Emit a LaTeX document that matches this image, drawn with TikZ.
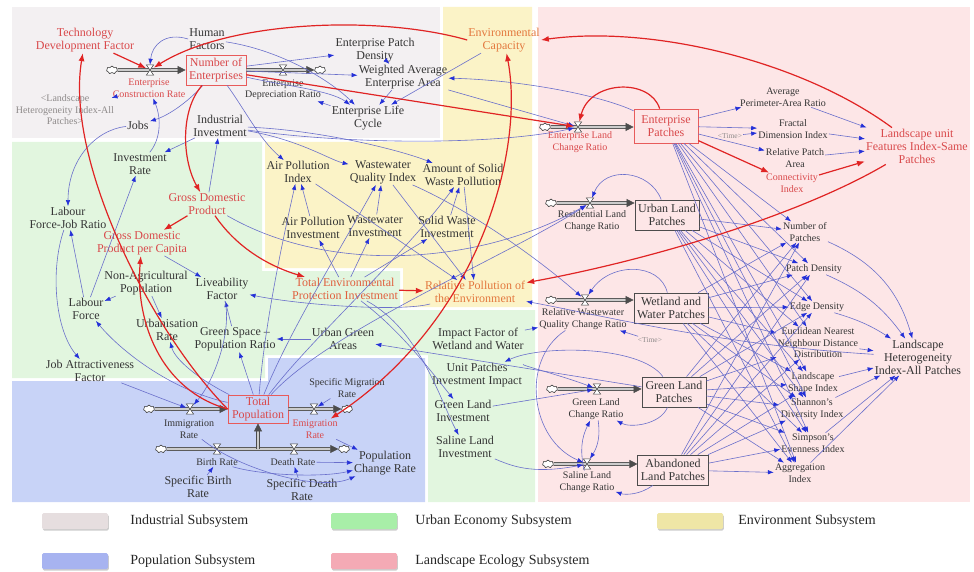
\documentclass[tikz,border=0pt]{standalone}
\usepackage{fontspec}
\setmainfont{Liberation Serif}
\usetikzlibrary{arrows.meta,shapes.symbols,shadows,positioning}

\definecolor{indbg}{HTML}{F3F0F2}
\definecolor{envbg}{HTML}{FBF3C7}
\definecolor{urbbg}{HTML}{E2F6DF}
\definecolor{popbg}{HTML}{C8D3F7}
\definecolor{lanbg}{HTML}{FDE6E7}
\definecolor{indsw}{HTML}{E6DEDF}
\definecolor{urbsw}{HTML}{A8EEA8}
\definecolor{envsw}{HTML}{EFE6A6}
\definecolor{popsw}{HTML}{A7B3F0}
\definecolor{lansw}{HTML}{F4AAB5}
\definecolor{linkc}{HTML}{6A6FCB}
\definecolor{headc}{HTML}{2430D8}
\definecolor{redc}{HTML}{E02424}
\definecolor{redtxt}{HTML}{D9494B}
\definecolor{orgtxt}{HTML}{E3783E}
\definecolor{tepic}{HTML}{E0603E}
\definecolor{txt}{HTML}{353535}
\definecolor{greytxt}{HTML}{8E8A8A}

\begin{document}
\begin{tikzpicture}[x=1pt,y=-1pt,
  lbl/.style={align=center,inner sep=1pt,text=txt,font=\fontsize{12}{13}\selectfont},
  slbl/.style={lbl,font=\fontsize{10}{11.5}\selectfont},
  rlbl/.style={lbl,text=redtxt},
  srlbl/.style={slbl,text=redtxt},
  olbl/.style={lbl,text=orgtxt},
  tlbl/.style={inner sep=1pt,text=greytxt,font=\fontsize{7.5}{8}\selectfont},
  stock/.style={lbl,draw=black!70,line width=0.8pt,inner xsep=3pt,inner ysep=2pt,minimum height=30pt,minimum width=64pt},
  rstock/.style={stock,draw=redc!75,text=redtxt},
  cloudn/.style={cloud,cloud puffs=7,aspect=1.3,draw=black!75,fill=white,minimum width=11pt,minimum height=8pt,inner sep=0pt,line width=0.6pt},
  valve/.style={minimum width=7pt,minimum height=10pt,inner sep=0pt},
  pipeline/.style={draw=black!70,line width=0.6pt,double=gray!40,double distance=2.4pt},
  pipe/.style={pipeline,-{Triangle[length=8pt,width=8pt]}},
  link/.style={draw=linkc,line width=0.6pt,-{Latex[length=6pt,width=4.5pt,color=headc]}},
  rlink/.style={draw=redc,line width=1.2pt,-{Latex[length=8pt,width=6pt]}},
  swatch/.style={minimum width=66pt,minimum height=16pt,inner sep=0pt,rounded corners=1.5pt,drop shadow={shadow xshift=0.8pt,shadow yshift=-1.6pt,fill=black!40}},
  legtxt/.style={inner sep=0pt,text=black!85,font=\fontsize{14}{16}\selectfont}]

\useasboundingbox (0,0) rectangle (974,572);

% subsystems
\fill[indbg] (12,7) rectangle (440,138);
\fill[envbg] (443,7) -- (532,7) -- (532,307) -- (403,307) -- (403,268) -- (265,268) -- (265,142) -- (443,142) -- cycle;
\fill[urbbg] (12,142) -- (262,142) -- (262,271) -- (400,271) -- (400,310) -- (535,310) -- (535,502) -- (428,502) -- (428,355) -- (265,355) -- (265,378) -- (12,378) -- cycle;
\fill[popbg] (12,381) -- (268,381) -- (268,358) -- (425,358) -- (425,502) -- (12,502) -- cycle;
\fill[lanbg] (538,7) rectangle (970,502);

% industrial
\node[rlbl] (tdf) at (85,40) {Technology\\Development Factor};
\node[lbl] (hf) at (207,39) {Human\\Factors};
\node[rstock,minimum width=60pt] (noe) at (216,70) {Number of\\Enterprises};
\node[cloudn] (cECR) at (112,70) {};
\node[valve] (vECR) at (150,70) {};
\node[srlbl] (lECR) at (149,88) {Enterprise\\Construction Rate};
\node[cloudn] (cEDR) at (320,70) {};
\node[valve] (vEDR) at (283,70) {};
\node[slbl] (lEDR) at (283,90) {Enterprise\\Depreciation Ratio};
\node[slbl,text=greytxt] (lhi) at (65,110) {<Landscape\\Heterogeneity Index-All\\Patches>};
\node[lbl] (jobs) at (138,125) {Jobs};
\node[lbl] (iinv) at (220,126) {Industrial\\Investment};
\node[lbl] (epd) at (375,50) {Enterprise Patch\\Density};
\node[lbl] (wae) at (403,77) {Weighted Average\\Enterprise Area};
\node[lbl] (elc) at (368,118) {Enterprise Life\\Cycle};

% environment
\node[olbl] (ec) at (504,40) {Environmental\\Capacity};
\node[lbl] (api) at (298,172) {Air Pollution\\Index};
\node[lbl] (wqi) at (383,172) {Wastewater\\Quality Index};
\node[lbl] (aswp) at (463,175) {Amount of Solid\\Waste Pollution};
\node[lbl] (apinv) at (313,228) {Air Pollution\\Investment};
\node[lbl] (wwinv) at (375,226) {Wastewater\\Investment};
\node[lbl] (swinv) at (447,227) {Solid Waste\\Investment};
\node[olbl] (rpe) at (475,292) {Relative Pollution of\\the Environment};
\node[lbl,text=tepic] (tepi) at (345,289) {Total Environmental\\Protection Investment};

% urban economy
\node[lbl] (ir) at (140,164) {Investment\\Rate};
\node[rlbl] (gdp) at (207,204) {Gross Domestic\\Product};
\node[lbl] (lfjr) at (68,218) {Labour\\Force-Job Ratio};
\node[rlbl] (gdppc) at (142,243) {Gross Domestic\\Product per Capita};
\node[lbl] (nap) at (146,283) {Non-Agricultural\\Population};
\node[lbl] (liv) at (222,289) {Liveability\\Factor};
\node[lbl] (lf) at (86,309) {Labour\\Force};
\node[lbl] (ur) at (167,330) {Urbanisation\\Rate};
\node[lbl] (gspr) at (235,339) {Green Space --\\Population Ratio};
\node[lbl] (uga) at (343,339) {Urban Green\\Areas};
\node[lbl] (jaf) at (90,371) {Job Attractiveness\\Factor};
\node[lbl] (ifww) at (478,339) {Impact Factor of\\Wetland and Water};
\node[lbl] (upii) at (477,375) {Unit Patches\\Investment Impact};
\node[lbl] (gli) at (463,411) {Green Land\\Investment};
\node[lbl] (sli) at (465,447) {Saline Land\\Investment};

% population
\node[rstock,minimum width=60pt,minimum height=28pt] (tp) at (258,409) {Total\\Population};
\node[cloudn] (cIm) at (149,409) {};
\node[valve] (vIm) at (190,409) {};
\node[slbl] (lIm) at (189,429) {Immigration\\Rate};
\node[valve] (vEm) at (314,409) {};
\node[cloudn] (cEm) at (347,409) {};
\node[srlbl] (lEm) at (315,429) {Emigration\\Rate};
\node[slbl] (smr) at (347,388) {Specific Migration\\Rate};
\node[cloudn] (cB) at (161,449) {};
\coordinate (jPop) at (258,449);
\node[valve] (vB) at (217,449) {};
\node[valve] (vD) at (294,449) {};
\node[cloudn] (cD) at (344,449) {};
\node[slbl] (lB) at (217,462) {Birth Rate};
\node[slbl] (lD) at (293,462) {Death Rate};
\node[lbl] (sbr) at (198,487) {Specific Birth\\Rate};
\node[lbl] (sdr) at (302,490) {Specific Death\\Rate};
\node[lbl] (pcr) at (385,463) {Population\\Change Rate};

% landscape ecology
\node[rstock,minimum height=34pt] (ep) at (666,126) {Enterprise\\Patches};
\node[cloudn] (cELC) at (545,127) {};
\node[valve] (vELC) at (578,127) {};
\node[srlbl] (lELC) at (580,142) {Enterprise Land\\Change Ratio};
\node[slbl] (apar) at (783,97) {Average\\Perimeter-Area Ratio};
\node[slbl] (fdi) at (793,129) {Fractal\\Dimension Index};
\node[tlbl] (time1) at (730,136) {<Time>};
\node[slbl] (rpa) at (795,158) {Relative Patch\\Area};
\node[srlbl] (ci) at (792,183) {Connectivity\\Index};
\node[rlbl] (lufi) at (917,146) {Landscape unit\\Features Index-Same\\Patches};
\node[stock] (ulp) at (667,215) {Urban Land\\Patches};
\node[cloudn] (cRes) at (551,203) {};
\node[valve] (vRes) at (590,203) {};
\node[slbl] (lRes) at (592,221) {Residential Land\\Change Ratio};
\node[stock] (wwp) at (671,308) {Wetland and\\Water Patches};
\node[cloudn] (cRW) at (551,300) {};
\node[valve] (vRW) at (585,300) {};
\node[slbl] (lRW) at (583,319) {Relative Wastewater\\Quality Change Ratio};
\node[tlbl] (time2) at (650,340) {<Time>};
\node[stock] (glp) at (674,392) {Green Land\\Patches};
\node[cloudn] (cGL) at (552,389) {};
\node[valve] (vGL) at (597,389) {};
\node[slbl] (lGL) at (596,409) {Green Land\\Change Ratio};
\node[stock] (alp) at (673,470) {Abandoned\\Land Patches};
\node[cloudn] (cSL) at (548,464) {};
\node[valve] (vSL) at (587,464) {};
\node[slbl] (lSL) at (587,482) {Saline Land\\Change Ratio};
\node[slbl] (nop) at (805,232) {Number of\\Patches};
\node[slbl] (pd) at (814,269) {Patch Density};
\node[slbl] (edd) at (817,307) {Edge Density};
\node[slbl] (enn) at (818,343) {Euclidean Nearest\\Neighbour Distance\\Distribution};
\node[slbl] (lsi) at (813,383) {Landscape\\Shape Index};
\node[slbl] (sdi) at (812,409) {Shannon's\\Diversity Index};
\node[slbl] (sei) at (813,443) {Simpson's\\Evenness Index};
\node[slbl] (agi) at (800,473) {Aggregation\\Index};
\node[lbl] (lhia) at (918,357) {Landscape\\Heterogeneity\\Index-All Patches};

% flows
\draw[pipe] (cECR) -- (noe);
\draw[pipe] (noe) -- (cEDR);
\draw[pipe] (cIm) -- (tp);
\draw[pipe] (tp) -- (cEm);
\draw[pipeline] (cB) -- (jPop);
\draw[pipe] (jPop) -- (cD);
\draw[pipe] (jPop) -- (tp);
\draw[pipe] (cELC) -- (cELC -| ep.west);
\draw[pipe] (cRes) -- (cRes -| ulp.west);
\draw[pipe] (cRW) -- (cRW -| wwp.west);
\draw[pipe] (cGL) -- (cGL -| glp.west);
\draw[pipe] (cSL) -- (cSL -| alp.west);
\foreach \v in {vECR,vEDR,vIm,vEm,vB,vD,vELC,vRes,vRW,vGL,vSL}
  \filldraw[draw=black!75,fill=white,line width=0.5pt] (\v.north west) -- (\v.north east) -- (\v.south west) -- (\v.south east) -- cycle;

% links
\draw[link] (hf.west) .. controls (165,32) and (152,45) .. (vECR.north);
\draw[link] (lhi) -- (lECR);
\draw[link] (noe) .. controls (190,100) and (170,115) .. (jobs);
\draw[link] (ir) .. controls (160,140) and (162,120) .. (lECR);
\draw[link] (jobs) .. controls (95,130) and (68,160) .. (lfjr);
\draw[link] (noe) -- (epd);
\draw[link] (noe) -- (wae);
\draw[link] (noe) .. controls (280,85) and (330,90) .. (elc);
\draw[link] (hf) .. controls (280,50) and (330,80) .. (elc);
\draw[link] (wae) -- (elc);
\draw[link] (epd) -- (wae);
\draw[link] (ec) -- (elc);
\draw[link] (elc) -- (lEDR);
\draw[link] (ep) .. controls (600,95) and (520,80) .. (wae);
\draw[link] (wae) -- (vELC);
\draw[link] (iinv) .. controls (350,145) and (500,145) .. (vELC);
\draw[link] (noe) .. controls (245,110) and (260,140) .. (api);
\draw[link] (iinv) .. controls (300,140) and (330,160) .. (wqi);
\draw[link] (iinv) .. controls (320,130) and (400,150) .. (aswp);
\draw[link] (gdp) -- (iinv);
\draw[link] (iinv) -- (ir);
\draw[link] (lf) -- (ir);
\draw[link] (lf) -- (lfjr);
\draw[link] (lfjr) .. controls (50,270) and (55,330) .. (jaf);
\draw[link] (nap) -- (lf);
\draw[link] (nap) -- (ur);
\draw[link] (gdppc) -- (liv);
\draw[link] (gspr) -- (liv);
\draw[link] (rpe) .. controls (400,312) and (300,305) .. (liv);
\draw[link] (uga) -- (gspr);
\draw[link] (tp) -- (gspr);
\draw[link] (tp) .. controls (200,380) and (175,360) .. (ur);
\draw[link] (tp) .. controls (170,390) and (120,350) .. (lf);
\draw[link] (liv) .. controls (232,330) and (215,380) .. (vIm);
\draw[link] (jaf) .. controls (140,390) and (165,400) .. (vIm);
\draw[link] (smr) -- (vEm);
\draw[link] (lEm) -- (pcr);
\draw[link] (lD) -- (pcr);
\draw[link] (lB) .. controls (260,475) and (320,478) .. (pcr);
\draw[link] (sbr) -- (lB);
\draw[link] (sdr) -- (lD);
\draw[link] (lIm) .. controls (240,470) and (320,492) .. (pcr);
\draw[link] (tp) .. controls (265,320) and (285,230) .. (api);
\draw[link] (tp) .. controls (290,330) and (340,250) .. (wqi);
\draw[link] (tp) .. controls (310,340) and (400,260) .. (aswp);
\draw[link] (tepi) -- (apinv);
\draw[link] (tepi) -- (wwinv);
\draw[link] (tepi) -- (swinv);
\draw[link] (apinv) -- (api);
\draw[link] (wwinv) -- (wqi);
\draw[link] (swinv) -- (aswp);
\draw[link] (api) -- (rpe);
\draw[link] (wqi) -- (rpe);
\draw[link] (aswp) -- (rpe);
\draw[link] (wqi) .. controls (470,210) and (540,260) .. (vRW);
\draw[link] (gdp) .. controls (330,275) and (480,265) .. (vRes);
\draw[link] (tp) .. controls (330,330) and (500,260) .. (vRes);
\draw[link] (tepi) .. controls (400,330) and (430,370) .. (gli);
\draw[link] (tepi) .. controls (420,330) and (440,400) .. (sli);
\draw[link] (gli) -- (vGL);
\draw[link] (sli) .. controls (510,465) and (530,475) .. (vSL);
\draw[link] (glp) .. controls (660,425) and (630,428) .. (lGL);
\draw[link] (alp) .. controls (640,495) and (625,495) .. (lSL);
\draw[link] (lGL) to[bend left=20] (vSL);
\draw[link] (lSL) to[bend left=20] (lGL);
\draw[link] (lRW) .. controls (520,360) and (530,440) .. (vSL);
\draw[link] (time2) -- (lRW);
\draw[link] (ifww) -- (lRW);
\draw[link] (glp) .. controls (640,345) and (540,345) .. (upii);
\draw[link] (glp) -- (uga);
\draw[link] (upii) .. controls (520,365) and (560,375) .. (vGL);
\draw[link] (ulp) .. controls (650,170) and (605,165) .. (vRes);
\draw[link] (wwp) .. controls (660,262) and (610,262) .. (vRW);
\draw[link] (lhia) .. controls (720,345) and (600,315) .. (rpe);
\draw[link] (ep) -- (apar);
\draw[link] (ep) -- (fdi);
\draw[link] (time1) -- (fdi);
\draw[link] (ep) -- (rpa);
\draw[link] (apar) -- (lufi);
\draw[link] (fdi) -- (lufi);
\draw[link] (rpa) -- (lufi);
\foreach \s in {ep,ulp,wwp,glp,alp}
  \foreach \t in {nop,pd,edd,enn,lsi,sdi,sei,agi}
    \draw[link] (\s) -- (\t);
\draw[link] (nop) to[bend left=25] (lhia);
\draw[link] (pd) to[bend left=15] (lhia);
\draw[link] (edd) to[bend left=8] (lhia);
\foreach \i in {enn,lsi,sdi,sei,agi}
  \draw[link] (\i) -- (lhia);

% main loops
\draw[rlink] (tdf) -- (vECR);
\draw[rlink] (ec.west) .. controls (380,15) and (230,20) .. (vECR);
\draw[rlink] (lufi) .. controls (800,60) and (650,25) .. (ec.east);
\draw[rlink] (noe) -- (vELC);
\draw[rlink] (ep.110) .. controls (650,78) and (590,80) .. (vELC);
\draw[rlink] (ep) -- (ci);
\draw[rlink] (ci) -- (lufi);
\draw[rlink] (noe) .. controls (180,110) and (182,160) .. (gdp);
\draw[rlink] (gdp) -- (gdppc);
\draw[rlink] (gdp) .. controls (235,245) and (265,265) .. (tepi);
\draw[rlink] (tepi) -- (rpe);
\draw[rlink] (lufi) .. controls (800,215) and (650,260) .. (rpe);
\draw[rlink,{Latex[length=8pt,width=6pt]}-{Latex[length=8pt,width=6pt]}] (lEm) .. controls (480,320) and (525,150) .. (ec);
\draw[rlink] (tp.west) .. controls (160,390) and (135,320) .. (gdppc);
\draw[rlink] (tp.west) .. controls (150,330) and (65,160) .. (tdf);

% legend
\node[swatch,fill=indsw] (swInd) at (75,521) {};
\node[legtxt,right=22pt of swInd] (tInd) {Industrial Subsystem};
\node[swatch,fill=urbsw] (swUrb) at (364,521) {};
\node[legtxt,right=18pt of swUrb] (tUrb) {Urban Economy Subsystem};
\node[swatch,fill=envsw] (swEnv) at (690,521) {};
\node[legtxt,right=15pt of swEnv] (tEnv) {Environment Subsystem};
\node[swatch,fill=popsw] (swPop) at (75,561) {};
\node[legtxt,right=22pt of swPop] (tPop) {Population Subsystem};
\node[swatch,fill=lansw] (swLan) at (364,561) {};
\node[legtxt,right=18pt of swLan] (tLan) {Landscape Ecology Subsystem};

\end{tikzpicture}
\end{document}
